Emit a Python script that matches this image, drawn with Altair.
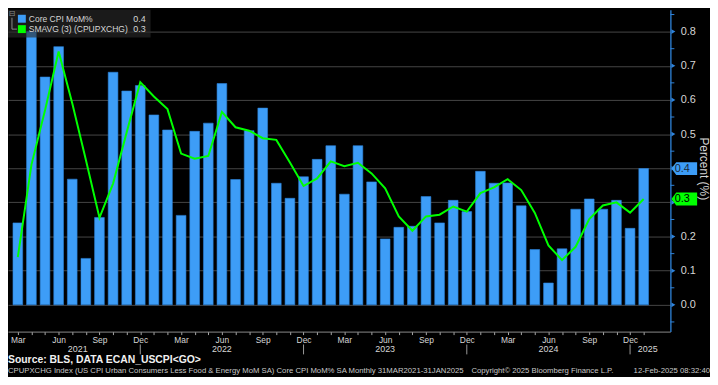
import json
import altair as alt
import pandas as pd

# ---------------- data ----------------
dates = pd.date_range("2021-03-31", "2025-01-31", freq="ME")
core_cpi_mom = [0.24, 0.80, 0.667, 0.756, 0.368, 0.136, 0.256, 0.681, 0.626, 0.642,
                0.556, 0.512, 0.262, 0.508, 0.532, 0.648, 0.367, 0.51, 0.576, 0.356,
                0.312, 0.375, 0.426, 0.466, 0.324, 0.466, 0.36, 0.193, 0.227, 0.23,
                0.317, 0.24, 0.306, 0.273, 0.391, 0.356, 0.357, 0.29, 0.162, 0.064,
                0.164, 0.28, 0.31, 0.28, 0.306, 0.224, 0.399]
smavg3 = [0.14, 0.41, 0.57, 0.742, 0.59, 0.425, 0.255, 0.355, 0.505, 0.652,
          0.61, 0.573, 0.443, 0.428, 0.436, 0.565, 0.52, 0.51, 0.488, 0.483,
          0.417, 0.348, 0.37, 0.42, 0.406, 0.416, 0.385, 0.341, 0.259, 0.217,
          0.259, 0.264, 0.288, 0.273, 0.327, 0.344, 0.368, 0.336, 0.269, 0.174,
          0.131, 0.170, 0.251, 0.291, 0.30, 0.27, 0.31]
month_names = list(dates.strftime("%b"))
tick_labels = [m if m in ("Mar", "Jun", "Sep", "Dec") else "" for m in month_names]
years = ["2021", "2022", "2023", "2024", "2025"]
year_pos = [4.4, 15.0, 27.0, 39.0, 46.3]
year_sep = [9, 21, 33, 45]
y_major = [0.0, 0.1, 0.2, 0.3, 0.4, 0.5, 0.6, 0.7, 0.8]
y_minor = [-0.05, 0.05, 0.15, 0.25, 0.35, 0.45, 0.55, 0.65, 0.75, 0.85]
series_names = ["Core CPI MoM%", "SMAVG (3) (CPUPXCHG)"]
source_text = "Source: BLS, DATA ECAN_USCPI<GO>"
footer_left = ("CPUPXCHG Index (US CPI Urban Consumers Less Food & Energy MoM SA) "
               "Core CPI MoM% SA  Monthly 31MAR2021-31JAN2025")
footer_mid = "Copyright\u00a9 2025 Bloomberg Finance L.P."
footer_right = "12-Feb-2025 08:32:40"

# ---------------- styling ----------------
W, H = 669, 325
BLUE = "#3d9df7"
AXIS_BLUE = "#2f84dc"
GREEN = "#00ff00"
TXT = "#d6d6d6"
FONT = "Liberation Sans, Arial, sans-serif"
TAG_PATH = "M-1,0L-0.62,-0.5L1,-0.5L1,0.5L-0.62,0.5Z"

df = pd.DataFrame({"i": list(range(len(dates))), "month": dates.strftime("%b %Y"),
                   "core": core_cpi_mom, "sma": smavg3})
xs = alt.Scale(domain=[-0.358, 47.6], nice=False, zero=False)
ys = alt.Scale(domain=[-0.0783, 0.8638], nice=False)

# values shown in the tags on the axis (their axis labels sit hidden under the tags)
tag_vals = [round(core_cpi_mom[-1], 1), round(smavg3[-1], 1)]
hidden = " || ".join(f"abs(datum.value - {v}) < 0.001" for v in tag_vals)

xaxis = alt.Axis(orient="bottom", values=list(range(len(dates))),
                 labelExpr=json.dumps(tick_labels) + "[datum.value]",
                 domainColor="#8a8a8a", domainWidth=1, tickColor="#a8a8a8", tickSize=3,
                 labelColor=TXT, labelFontSize=8.5, labelFont=FONT, labelPadding=1,
                 labelOverlap=False, labelFlush=False, grid=False, title=None)
yaxis = alt.Axis(orient="right", values=y_major, format=".1f",
                 labelExpr=f"({hidden}) ? '' : datum.label", grid=True,
                 gridColor="#464646", gridWidth=1, ticks=False,
                 domainColor=AXIS_BLUE, domainWidth=1.3,
                 labelColor=TXT, labelFontSize=11, labelFont=FONT, labelPadding=10,
                 title="Percent (%)", titleAngle=90, titleColor=TXT, titleFontSize=12,
                 titleFont=FONT, titleFontWeight="normal", titleX=33, titleY=160,
                 titleAlign="center", titleBaseline="middle")


def X(field):
    return alt.X(field, scale=xs, axis=xaxis)


def Y(field):
    return alt.Y(field, scale=ys, axis=yaxis)


base = alt.Chart(df)
bars = base.mark_bar(size=9.8, color=BLUE, stroke="#2c82d8", strokeWidth=0.6, clip=True).encode(
    x=X("i:Q"), y=Y("core:Q"), tooltip=["month", "core"])
line = base.mark_line(color=GREEN, strokeWidth=2, clip=True).encode(
    x=X("i:Q"), y=Y("sma:Q"))

# right axis ticks
minor = alt.Chart(pd.DataFrame({"v": y_minor})).mark_rule(color=AXIS_BLUE, strokeWidth=1).encode(
    x=alt.value(W), x2=alt.value(W + 4), y=Y("v:Q"))
major = alt.Chart(pd.DataFrame({"v": y_major})).mark_point(
    shape="triangle-right", filled=True, size=22, color=AXIS_BLUE, opacity=1).encode(
    x=alt.value(W + 3), y=Y("v:Q"))

# last-value tags on the axis
tag_df = pd.DataFrame({"val": [core_cpi_mom[-1], smavg3[-1]],
                       "txt": [f"{v:.1f}" for v in tag_vals],
                       "fill": [BLUE, GREEN], "tc": ["#1b2836", "#000000"]})
tags = alt.Chart(tag_df).mark_point(shape=TAG_PATH, filled=True, size=676, opacity=1,
                                    strokeWidth=0).encode(
    x=alt.value(W + 14), y=Y("val:Q"), fill=alt.Fill("fill:N", scale=None))
tag_txt = alt.Chart(tag_df).mark_text(align="center", baseline="middle", fontSize=11,
                                      font=FONT).encode(
    x=alt.value(W + 12), y=Y("val:Q"), text="txt:N", color=alt.Color("tc:N", scale=None))

# x-axis year row
year_txt = alt.Chart(pd.DataFrame({"p": year_pos, "t": years})).mark_text(
    align="center", baseline="middle", fontSize=9, font=FONT, color=TXT).encode(
    x=X("p:Q"), y=alt.value(342.5), text="t:N")
year_rules = alt.Chart(pd.DataFrame({"p": year_sep})).mark_rule(color="#9a9a9a", strokeWidth=1).encode(
    x=X("p:Q"), y=alt.value(338), y2=alt.value(348))

# legend box (top left)
one = pd.DataFrame({"k": [0]})
leg_layers = [
    alt.Chart(one).mark_rect(fill="#2a2a2a", opacity=0.62).encode(
        x=alt.value(0), x2=alt.value(144), y=alt.value(0), y2=alt.value(28)),
    alt.Chart(one).mark_text(text="\u229f", fontSize=8, color="#8a8a8a", font="DejaVu Sans",
                             align="center", baseline="middle").encode(x=alt.value(4), y=alt.value(4)),
    alt.Chart(one).mark_rule(color="#8a8a8a", strokeWidth=1).encode(
        x=alt.value(4), y=alt.value(8), y2=alt.value(19.5)),
    alt.Chart(one).mark_rule(color="#8a8a8a", strokeWidth=1).encode(
        x=alt.value(4), x2=alt.value(9), y=alt.value(19.5)),
]
leg_vals = [f"{v:.1f}" for v in tag_vals]
for name, col, val, yy in zip(series_names, [BLUE, GREEN], leg_vals, [9, 19.5]):
    leg_layers.append(alt.Chart(one).mark_square(size=64, color=col, opacity=1, filled=True).encode(
        x=alt.value(14), y=alt.value(yy)))
    leg_layers.append(alt.Chart(one).mark_text(text=name, align="left", baseline="middle",
                                               fontSize=8.6, font=FONT, color=TXT).encode(
        x=alt.value(21), y=alt.value(yy)))
    leg_layers.append(alt.Chart(one).mark_text(text=val, align="right", baseline="middle",
                                               fontSize=9, font=FONT, color=TXT).encode(
        x=alt.value(139), y=alt.value(yy)))

# source and footer
foot_layers = [
    alt.Chart(one).mark_text(text=source_text, align="left", baseline="middle", fontSize=10.5,
                             fontWeight="bold", font=FONT, color="#f0f0f0").encode(
        x=alt.value(0), y=alt.value(354)),
    alt.Chart(one).mark_text(text=footer_left, align="left", baseline="middle", fontSize=7.8,
                             font=FONT, color="#c8c8c8").encode(x=alt.value(0), y=alt.value(364.5)),
    alt.Chart(one).mark_text(text=footer_mid, align="left", baseline="middle", fontSize=7.8,
                             font=FONT, color="#c8c8c8").encode(x=alt.value(468), y=alt.value(364.5)),
    alt.Chart(one).mark_text(text=footer_right, align="right", baseline="middle", fontSize=7.8,
                             font=FONT, color="#c8c8c8").encode(x=alt.value(709), y=alt.value(364.5)),
]

chart = alt.layer(
    bars, line, minor, major, year_rules, year_txt, *leg_layers, tags, tag_txt, *foot_layers
).properties(width=W, height=H, padding=0, background="#000000").configure_view(
    strokeWidth=0, fill="#000000")

chart.save("out.html", embed_options={"renderer": "svg", "actions": False})
